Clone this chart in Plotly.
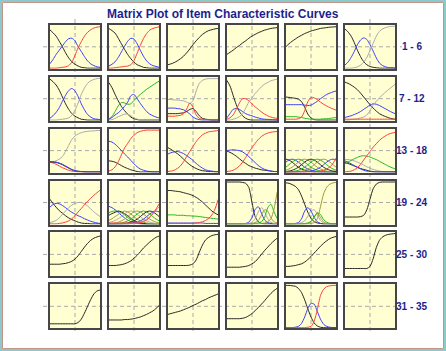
import plotly.graph_objects as go

W, H = 446, 351
TITLE = "Matrix Plot of Item Characteristic Curves"
ROW_LABELS = ["1 - 6", "7 - 12", "13 - 18", "19 - 24", "25 - 30", "31 - 35"]
THETA = [-4.0, -3.5, -3.0, -2.5, -2.0, -1.5, -1.0, -0.5, 0.0, 0.5, 1.0, 1.5, 2.0, 2.5, 3.0, 3.5, 4.0]

COLORS = {"k": "#262626", "b": "#3c3cff", "r": "#ff3c3c", "g": "#a8a8a8", "G": "#22b822", "o": "#9c9c3a"}

# ---- item category curves (probability read at THETA) ----
ITEM01 = [("k", [0.90,0.83,0.75,0.63,0.50,0.36,0.24,0.15,0.09,0.05,0.02,0.01,0,0,0,0,0]),
          ("b", [0.10,0.20,0.32,0.42,0.52,0.62,0.69,0.70,0.64,0.50,0.39,0.27,0.17,0.10,0.06,0.03,0.02]),
          ("r", [0,0,0,0.01,0.02,0.03,0.06,0.14,0.30,0.48,0.62,0.75,0.84,0.90,0.94,0.96,0.97])]
ITEM02 = [("k", [0.93,0.88,0.82,0.70,0.57,0.44,0.32,0.22,0.14,0.08,0.05,0.02,0.01,0,0,0,0]),
          ("b", [0.05,0.09,0.15,0.25,0.38,0.51,0.63,0.70,0.68,0.57,0.42,0.28,0.17,0.10,0.06,0.04,0.02]),
          ("r", [0,0,0.01,0.02,0.03,0.04,0.05,0.08,0.18,0.35,0.53,0.69,0.81,0.89,0.93,0.95,0.97])]
ITEM03 = [("k", [0.08,0.10,0.13,0.17,0.22,0.28,0.36,0.45,0.55,0.64,0.72,0.79,0.84,0.88,0.90,0.92,0.93])]
ITEM04 = [("k", [0.32,0.37,0.42,0.48,0.53,0.59,0.64,0.70,0.75,0.79,0.83,0.86,0.89,0.91,0.93,0.94,0.95])]
ITEM05 = [("k", [0.50,0.57,0.63,0.68,0.73,0.77,0.81,0.84,0.87,0.89,0.91,0.93,0.94,0.95,0.96,0.965,0.97])]
ITEM06 = [("k", [0.92,0.85,0.75,0.60,0.42,0.27,0.15,0.08,0.04,0.02,0.01,0,0,0,0,0,0]),
          ("b", [0.07,0.14,0.25,0.39,0.55,0.66,0.71,0.67,0.55,0.40,0.24,0.12,0.06,0.03,0.01,0.01,0]),
          ("g", [0,0,0,0.01,0.03,0.07,0.14,0.25,0.41,0.58,0.75,0.86,0.92,0.95,0.97,0.98,0.98])]
ITEM07 = [("k", [0.96,0.90,0.82,0.70,0.54,0.38,0.25,0.15,0.09,0.05,0.02,0.01,0,0,0,0,0]),
          ("b", [0.04,0.10,0.18,0.29,0.44,0.58,0.69,0.74,0.68,0.55,0.38,0.24,0.13,0.07,0.03,0.02,0.01]),
          ("g", [0,0,0,0.01,0.02,0.03,0.05,0.11,0.23,0.40,0.60,0.75,0.86,0.92,0.95,0.97,0.98])]
ITEM08 = [("k", [0.88,0.76,0.60,0.45,0.32,0.22,0.14,0.07,0.03,0.01,0,0,0,0,0,0,0]),
          ("g", [0,0.01,0.04,0.08,0.11,0.14,0.14,0.10,0.05,0.02,0.01,0,0,0,0,0,0]),
          ("G", [0.02,0.08,0.20,0.33,0.41,0.40,0.37,0.38,0.46,0.53,0.60,0.66,0.72,0.77,0.82,0.87,0.91]),
          ("b", [0.02,0.06,0.12,0.17,0.24,0.32,0.42,0.57,0.60,0.50,0.39,0.29,0.20,0.14,0.10,0.07,0.05])]
ITEM09 = [("g", [0.48,0.48,0.47,0.47,0.46,0.45,0.42,0.39,0.45,0.68,0.86,0.93,0.96,0.97,0.97,0.97,0.97]),
          ("b", [0.28,0.28,0.28,0.27,0.26,0.24,0.20,0.14,0.07,0.03,0.01,0,0,0,0,0,0]),
          ("k", [0.15,0.15,0.15,0.15,0.16,0.17,0.20,0.25,0.27,0.20,0.10,0.04,0.02,0.01,0,0,0]),
          ("r", [0.09,0.09,0.09,0.10,0.11,0.15,0.26,0.40,0.30,0.12,0.04,0.02,0.01,0.01,0.01,0.01,0.01])]
ITEM10 = [("k", [0.93,0.80,0.58,0.36,0.20,0.10,0.04,0.01,0,0,0,0,0,0,0,0,0]),
          ("b", [0.05,0.15,0.25,0.27,0.25,0.20,0.15,0.12,0.10,0.07,0.05,0.03,0.02,0.015,0.01,0.005,0]),
          ("r", [0.02,0.05,0.12,0.25,0.40,0.50,0.50,0.45,0.38,0.31,0.25,0.19,0.14,0.10,0.07,0.05,0.04]),
          ("g", [0,0,0.02,0.04,0.08,0.15,0.28,0.42,0.52,0.62,0.70,0.78,0.84,0.88,0.92,0.94,0.96])]
ITEM11 = [("k", [0.54,0.53,0.52,0.51,0.49,0.43,0.30,0.14,0.05,0.01,0,0,0,0,0,0,0]),
          ("b", [0.36,0.36,0.36,0.36,0.36,0.36,0.35,0.34,0.35,0.39,0.44,0.50,0.55,0.60,0.63,0.66,0.68]),
          ("r", [0.02,0.02,0.02,0.02,0.03,0.07,0.22,0.43,0.53,0.52,0.48,0.42,0.37,0.33,0.29,0.26,0.23]),
          ("G", [0.08,0.08,0.08,0.08,0.07,0.06,0.04,0.03,0.02,0.02,0.02,0.02,0.03,0.03,0.04,0.05,0.06])]
ITEM12 = [("k", [0.89,0.86,0.82,0.77,0.71,0.63,0.54,0.45,0.36,0.28,0.21,0.15,0.11,0.08,0.05,0.03,0.02]),
          ("b", [0.06,0.08,0.10,0.13,0.16,0.20,0.25,0.30,0.35,0.38,0.37,0.34,0.30,0.26,0.22,0.18,0.15]),
          ("g", [0,0,0.01,0.02,0.03,0.05,0.07,0.12,0.22,0.35,0.44,0.52,0.59,0.66,0.72,0.78,0.84]),
          ("r", [0.02,0.02,0.02,0.02,0.02,0.02,0.02,0.02,0.02,0.02,0.02,0.02,0.02,0.02,0.02,0.02,0.02])]
ITEM13 = [("g", [0.23,0.24,0.26,0.30,0.36,0.48,0.62,0.76,0.84,0.89,0.92,0.94,0.95,0.96,0.96,0.97,0.97]),
          ("r", [0.23,0.21,0.18,0.14,0.10,0.07,0.04,0.02,0.01,0.005,0,0,0,0,0,0,0]),
          ("k", [0.24,0.23,0.22,0.20,0.17,0.13,0.09,0.05,0.03,0.015,0.01,0.005,0,0,0,0,0]),
          ("b", [0.24,0.24,0.23,0.21,0.18,0.14,0.10,0.06,0.03,0.015,0.01,0,0,0,0,0,0])]
ITEM14 = [("b", [0.72,0.70,0.65,0.58,0.50,0.42,0.35,0.27,0.19,0.12,0.07,0.04,0.02,0.01,0,0,0]),
          ("k", [0.26,0.25,0.23,0.19,0.15,0.11,0.08,0.05,0.03,0.01,0,0,0,0,0,0,0]),
          ("r", [0.02,0.05,0.12,0.24,0.40,0.56,0.67,0.78,0.86,0.92,0.95,0.97,0.98,0.98,0.98,0.98,0.98])]
ITEM15 = [("k", [0.57,0.53,0.48,0.43,0.37,0.30,0.23,0.17,0.12,0.08,0.05,0.03,0.02,0.01,0.01,0,0]),
          ("b", [0.42,0.45,0.47,0.48,0.46,0.43,0.38,0.33,0.27,0.20,0.14,0.09,0.05,0.03,0.02,0.01,0.01]),
          ("r", [0.01,0.02,0.04,0.08,0.14,0.24,0.36,0.48,0.60,0.71,0.80,0.87,0.91,0.94,0.95,0.96,0.97])]
ITEM16 = [("k", [0.49,0.46,0.42,0.37,0.31,0.25,0.20,0.15,0.12,0.09,0.07,0.05,0.04,0.03,0.02,0.01,0.01]),
          ("b", [0.50,0.51,0.52,0.51,0.50,0.47,0.42,0.36,0.29,0.22,0.15,0.10,0.06,0.04,0.02,0.01,0.01]),
          ("r", [0.01,0.02,0.04,0.08,0.14,0.23,0.34,0.46,0.57,0.67,0.76,0.83,0.88,0.91,0.93,0.94,0.95])]
ITEM17 = [("k", [0.30,0.28,0.23,0.17,0.11,0.07,0.04,0.02,0.01,0,0,0,0,0,0,0,0]),
          ("b", [0.23,0.28,0.30,0.28,0.23,0.17,0.11,0.07,0.04,0.02,0.01,0,0,0,0,0,0]),
          ("G", [0.11,0.17,0.23,0.28,0.30,0.28,0.23,0.17,0.11,0.07,0.04,0.02,0.01,0,0,0,0]),
          ("o", [0.04,0.07,0.11,0.17,0.23,0.28,0.30,0.28,0.23,0.17,0.11,0.07,0.04,0.02,0.01,0,0]),
          ("k", [0.01,0.02,0.04,0.07,0.11,0.17,0.23,0.28,0.30,0.28,0.23,0.17,0.11,0.07,0.04,0.02,0.01]),
          ("G", [0,0,0.01,0.02,0.04,0.07,0.11,0.17,0.23,0.28,0.30,0.28,0.23,0.17,0.11,0.07,0.04]),
          ("o", [0,0,0,0,0.01,0.02,0.04,0.07,0.11,0.17,0.23,0.28,0.30,0.28,0.23,0.17,0.11]),
          ("b", [0,0,0,0,0,0,0,0.01,0.02,0.04,0.07,0.11,0.17,0.23,0.28,0.30,0.28]),
          ("r", [0,0,0,0,0,0,0,0,0,0,0.01,0.02,0.04,0.07,0.12,0.20,0.33])]
ITEM18 = [("g", [0.29,0.29,0.28,0.26,0.23,0.20,0.16,0.12,0.09,0.06,0.04,0.02,0.01,0,0,0,0]),
          ("k", [0.22,0.20,0.17,0.14,0.11,0.08,0.06,0.04,0.02,0.01,0,0,0,0,0,0,0]),
          ("b", [0.26,0.23,0.19,0.15,0.11,0.07,0.04,0.02,0.01,0,0,0,0,0,0,0,0]),
          ("G", [0.19,0.23,0.27,0.31,0.34,0.37,0.38,0.37,0.35,0.32,0.29,0.25,0.21,0.17,0.13,0.10,0.07]),
          ("r", [0,0.01,0.02,0.05,0.10,0.18,0.28,0.38,0.48,0.58,0.66,0.74,0.80,0.85,0.89,0.91,0.93])]
ITEM19 = [("k", [0.58,0.48,0.39,0.31,0.25,0.19,0.14,0.10,0.07,0.04,0.02,0.01,0.01,0,0,0,0]),
          ("b", [0.39,0.45,0.48,0.47,0.43,0.38,0.32,0.27,0.23,0.19,0.16,0.12,0.09,0.06,0.04,0.02,0.01]),
          ("g", [0.03,0.05,0.08,0.14,0.22,0.30,0.38,0.44,0.48,0.50,0.50,0.47,0.42,0.35,0.28,0.22,0.17]),
          ("r", [0,0,0,0.01,0.02,0.04,0.07,0.12,0.19,0.28,0.36,0.45,0.53,0.60,0.67,0.73,0.79])]
ITEM20 = [("b", [0.41,0.38,0.33,0.27,0.20,0.14,0.09,0.05,0.03,0.01,0,0,0,0,0,0,0]),
          ("G", [0.26,0.29,0.30,0.29,0.26,0.21,0.15,0.10,0.06,0.03,0.01,0,0,0,0,0,0]),
          ("k", [0.20,0.24,0.27,0.30,0.28,0.24,0.19,0.13,0.08,0.04,0.02,0.01,0,0,0,0,0]),
          ("o", [0.08,0.12,0.17,0.22,0.27,0.30,0.28,0.23,0.17,0.11,0.07,0.04,0.02,0.01,0,0,0]),
          ("g", [0.03,0.05,0.08,0.12,0.17,0.23,0.28,0.30,0.28,0.23,0.17,0.11,0.07,0.04,0.02,0.01,0]),
          ("o", [0,0.01,0.02,0.04,0.07,0.11,0.17,0.23,0.28,0.30,0.28,0.23,0.17,0.11,0.07,0.04,0.02]),
          ("G", [0,0,0,0.01,0.02,0.04,0.07,0.11,0.17,0.23,0.28,0.30,0.28,0.23,0.17,0.11,0.07]),
          ("k", [0,0,0,0,0,0.01,0.02,0.04,0.07,0.11,0.17,0.23,0.28,0.30,0.28,0.23,0.17]),
          ("b", [0,0,0,0,0,0,0,0.01,0.02,0.04,0.07,0.11,0.17,0.23,0.28,0.30,0.28]),
          ("g", [0,0,0,0,0,0,0,0,0.01,0.02,0.04,0.07,0.11,0.17,0.24,0.32,0.40]),
          ("r", [0.02,0.02,0.02,0.02,0.02,0.02,0.02,0.02,0.02,0.02,0.03,0.05,0.09,0.15,0.24,0.35,0.47])]
ITEM21 = [("k", [0.78,0.78,0.77,0.76,0.75,0.73,0.71,0.69,0.66,0.62,0.57,0.51,0.44,0.37,0.30,0.25,0.21]),
          ("G", [0.21,0.21,0.21,0.20,0.20,0.20,0.19,0.19,0.18,0.18,0.17,0.16,0.15,0.14,0.13,0.12,0.11]),
          ("b", [0.02,0.02,0.02,0.02,0.02,0.02,0.02,0.02,0.02,0.02,0.02,0.02,0.01,0.01,0.01,0.01,0.01]),
          ("r", [0.01,0.01,0.01,0.01,0.01,0.01,0.01,0.01,0.01,0.02,0.03,0.05,0.08,0.13,0.21,0.35,0.57])]
ITEM22 = [("k", [0.98,0.98,0.98,0.98,0.98,0.97,0.95,0.85,0.50,0.17,0.05,0.01,0,0,0,0,0]),
          ("b", [0,0,0,0,0,0,0.01,0.04,0.15,0.34,0.40,0.25,0.09,0.03,0.01,0,0]),
          ("g", [0,0,0,0,0,0,0,0.01,0.04,0.12,0.28,0.38,0.28,0.12,0.04,0.01,0]),
          ("o", [0,0,0,0,0,0,0,0,0.01,0.03,0.08,0.20,0.33,0.30,0.14,0.05,0.02]),
          ("G", [0,0,0,0,0,0,0,0,0,0.01,0.02,0.05,0.15,0.38,0.46,0.28,0.12]),
          ("o", [0,0,0,0,0,0,0,0,0,0,0,0.01,0.02,0.05,0.12,0.35,0.75])]
ITEM23 = [("k", [0.96,0.95,0.92,0.88,0.80,0.65,0.46,0.27,0.13,0.05,0.02,0.01,0,0,0,0,0]),
          ("b", [0,0,0,0.01,0.03,0.12,0.30,0.38,0.30,0.15,0.05,0.01,0,0,0,0,0]),
          ("g", [0,0,0,0,0.01,0.03,0.07,0.18,0.30,0.33,0.22,0.08,0.02,0.01,0,0,0]),
          ("o", [0,0,0,0,0,0,0,0.01,0.05,0.15,0.25,0.15,0.05,0.01,0,0,0]),
          ("G", [0,0,0,0,0,0,0.01,0.02,0.06,0.16,0.26,0.22,0.10,0.04,0.01,0,0]),
          ("o", [0,0,0,0,0,0,0,0,0.01,0.03,0.12,0.40,0.70,0.86,0.93,0.96,0.97])]
ITEM24 = [("k", [0.16,0.16,0.16,0.16,0.16,0.17,0.20,0.33,0.58,0.82,0.93,0.97,0.98,0.98,0.98,0.98,0.98])]
ITEM25 = [("k", [0.27,0.27,0.27,0.27,0.28,0.29,0.31,0.34,0.39,0.47,0.57,0.67,0.76,0.83,0.88,0.91,0.93])]
ITEM26 = [("k", [0.24,0.24,0.24,0.25,0.26,0.28,0.31,0.35,0.41,0.48,0.56,0.65,0.72,0.79,0.85,0.90,0.93])]
ITEM27 = [("k", [0.24,0.24,0.24,0.24,0.24,0.24,0.24,0.25,0.28,0.37,0.55,0.72,0.84,0.90,0.94,0.96,0.97])]
ITEM28 = [("k", [0.20,0.20,0.20,0.20,0.20,0.21,0.22,0.24,0.28,0.33,0.41,0.50,0.59,0.67,0.75,0.82,0.88])]
ITEM29 = [("k", [0.22,0.22,0.23,0.24,0.26,0.28,0.32,0.38,0.45,0.53,0.61,0.69,0.76,0.82,0.87,0.90,0.92])]
ITEM30 = [("k", [0.17,0.17,0.17,0.17,0.17,0.17,0.17,0.17,0.22,0.40,0.66,0.83,0.91,0.95,0.97,0.98,0.99])]
ITEM31 = [("k", [0.09,0.09,0.09,0.09,0.09,0.09,0.09,0.09,0.09,0.12,0.20,0.34,0.50,0.66,0.79,0.86,0.88])]
ITEM32 = [("k", [0.18,0.18,0.18,0.18,0.18,0.19,0.19,0.20,0.21,0.23,0.25,0.28,0.31,0.35,0.39,0.45,0.52])]
ITEM33 = [("k", [0.31,0.33,0.35,0.37,0.39,0.42,0.45,0.48,0.52,0.55,0.59,0.63,0.66,0.70,0.73,0.76,0.79])]
ITEM34 = [("k", [0.21,0.21,0.21,0.21,0.21,0.22,0.24,0.28,0.33,0.40,0.47,0.55,0.63,0.72,0.80,0.87,0.92])]
ITEM35 = [("k", [0.99,0.99,0.98,0.97,0.92,0.82,0.65,0.44,0.25,0.11,0.04,0.01,0,0,0,0,0]),
          ("b", [0,0,0,0.01,0.03,0.10,0.25,0.45,0.57,0.55,0.38,0.20,0.08,0.03,0.01,0,0]),
          ("r", [0,0,0,0,0,0,0,0.01,0.03,0.15,0.42,0.75,0.90,0.96,0.98,0.99,0.99])]

ITEMS = [ITEM01, ITEM02, ITEM03, ITEM04, ITEM05, ITEM06, ITEM07, ITEM08, ITEM09, ITEM10,
         ITEM11, ITEM12, ITEM13, ITEM14, ITEM15, ITEM16, ITEM17, ITEM18, ITEM19, ITEM20,
         ITEM21, ITEM22, ITEM23, ITEM24, ITEM25, ITEM26, ITEM27, ITEM28, ITEM29, ITEM30,
         ITEM31, ITEM32, ITEM33, ITEM34, ITEM35]

# ---- geometry (pixels) ----
COL_X0, COL_PITCH, PANEL_W = 48.3, 59.0, 53.4
ROW_Y0, ROW_PITCH, PANEL_H = 23.3, 51.9, 47.0
LW = 1.5
FONT = "Liberation Sans, Arial, sans-serif"
NAVY = "#1e1e8c"

fig = go.Figure()
layout = dict(width=W, height=H, margin=dict(l=0, r=0, t=0, b=0),
              paper_bgcolor="white", plot_bgcolor="#FFFFD2", showlegend=False)

shapes = []
for k in range(36):
    r, c = divmod(k, 6)
    left = COL_X0 + c * COL_PITCH
    top = ROW_Y0 + r * ROW_PITCH
    x0 = (left + LW) / W
    x1 = (left + PANEL_W - LW) / W
    y1 = 1 - (top + LW) / H
    y0 = 1 - (top + PANEL_H - LW) / H
    sfx = "" if k == 0 else str(k + 1)
    ax = dict(domain=[x0, x1], range=[-4, 4], showgrid=False, zeroline=False,
              showticklabels=False, ticks="", showline=True, mirror=True,
              linecolor="#464646", linewidth=LW, fixedrange=True, anchor="y" + sfx)
    ay = dict(domain=[y0, y1], range=[-0.015, 1.015], showgrid=False, zeroline=False,
              showticklabels=False, ticks="", showline=True, mirror=True,
              linecolor="#464646", linewidth=LW, fixedrange=True, anchor="x" + sfx)
    layout["xaxis" + sfx] = ax
    layout["yaxis" + sfx] = ay
    curves = ITEMS[k] if k < len(ITEMS) else []
    if not curves:
        fig.add_trace(go.Scatter(x=[None], y=[None], xaxis="x" + sfx, yaxis="y" + sfx,
                                 mode="lines", hoverinfo="skip"))
    for col, vals in curves:
        fig.add_trace(go.Scatter(x=THETA, y=vals, xaxis="x" + sfx, yaxis="y" + sfx,
                                 mode="lines", line=dict(color=COLORS[col], width=1,
                                                         shape="spline", smoothing=0.7),
                                 hoverinfo="skip"))

# dashed guide lines through panel centres (extend into the gaps)
grid_top, grid_bot = 19.0, 334.0
grid_left, grid_right = 43.0, 402.0
for c in range(6):
    xc = (COL_X0 + c * COL_PITCH + PANEL_W / 2) / W
    shapes.append(dict(type="line", xref="paper", yref="paper", x0=xc, x1=xc,
                       y0=1 - grid_top / H, y1=1 - grid_bot / H, layer="below",
                       line=dict(color="#aaaaaa", width=1, dash="4px,3px")))
for r in range(6):
    yc = 1 - (ROW_Y0 + r * ROW_PITCH + PANEL_H / 2) / H
    shapes.append(dict(type="line", xref="paper", yref="paper", x0=grid_left / W, x1=grid_right / W,
                       y0=yc, y1=yc, layer="below",
                       line=dict(color="#aaaaaa", width=1, dash="4px,3px")))

# outer frame
shapes.append(dict(type="rect", xref="paper", yref="paper", x0=0, x1=1, y0=0, y1=1,
                   line=dict(color="#8ccaca", width=4), fillcolor="rgba(0,0,0,0)"))
shapes.append(dict(type="rect", xref="paper", yref="paper", x0=2.5 / W, x1=1 - 2.5 / W,
                   y0=2.5 / H, y1=1 - 2.5 / H,
                   line=dict(color="#c4948a", width=1), fillcolor="rgba(0,0,0,0)"))
layout["shapes"] = shapes

annotations = [dict(text="<b>" + TITLE + "</b>", x=222.5 / W, y=1 - 14.0 / H, xref="paper", yref="paper",
                    xanchor="center", yanchor="middle", showarrow=False,
                    font=dict(family=FONT, size=12, color=NAVY))]
for r, lab in enumerate(ROW_LABELS):
    yc = 1 - (ROW_Y0 + r * ROW_PITCH + PANEL_H / 2) / H
    annotations.append(dict(text="<b>" + lab + "</b>", x=412.0 / W, y=yc, xref="paper", yref="paper",
                            xanchor="center", yanchor="middle", showarrow=False,
                            font=dict(family=FONT, size=10, color=NAVY)))
layout["annotations"] = annotations

fig.update_layout(**layout)
fig.write_html("out.html")
